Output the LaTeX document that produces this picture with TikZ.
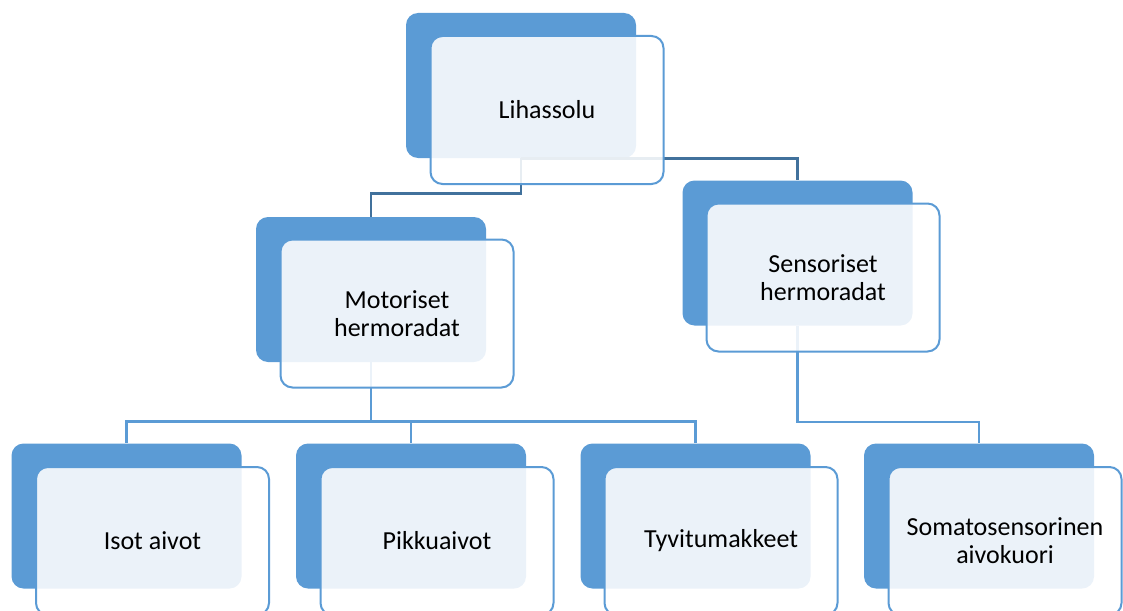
\documentclass[tikz,border=0pt]{standalone}
\usepackage{fontspec}
\setmainfont{Carlito}
\usepackage{tikz}
\usetikzlibrary{positioning}

\definecolor{taka}{RGB}{91,155,213}
\definecolor{viiva}{RGB}{65,113,156}

\tikzset{
  takalaatikko/.style={rectangle, rounded corners=6pt, fill=taka, minimum width=115pt, minimum height=72.5pt},
  etulaatikko/.style={rectangle, rounded corners=6pt, draw=taka, line width=1pt, fill=white, fill opacity=0.88, text opacity=1, minimum width=116.5pt, minimum height=74pt, align=center, font=\fontsize{13}{14}\selectfont},
  yhteys/.style={line width=1.2pt, draw=viiva},
  yhteys2/.style={line width=1.2pt, draw=taka}
}

\begin{document}
\begin{tikzpicture}[x=0.5pt, y=-0.5pt]
					\clip (0,0) rectangle (1123,610);
					% Takalaatikot
					\node[takalaatikko] (lihassolu-t) at (521,85.5) {};
					\node[takalaatikko] (motoriset-t) at (371,289.5) {};
					\node[takalaatikko] (sensoriset-t) at (797.5,253) {};
					\node[takalaatikko] (isot-t) at (126.5,516) {};
					\node[takalaatikko] (pikku-t) at (411,516) {};
					\node[takalaatikko] (tyvi-t) at (695.5,516) {};
					\node[takalaatikko] (soma-t) at (979,516) {};
					
					% Yhteydet
					\draw[yhteys] (lihassolu-t.south) -- ++(0,35) -| (motoriset-t.north);
					\draw[yhteys] (lihassolu-t.south) -| (sensoriset-t.north);
					\draw[yhteys2] (motoriset-t.south) -- ++(0,59) -| (isot-t.north);
					\draw[yhteys2] (motoriset-t.south) -- ++(0,59) -| (pikku-t.north);
					\draw[yhteys2] (motoriset-t.south) -- ++(0,59) -| (tyvi-t.north);
					\draw[yhteys2] (sensoriset-t.south) -- ++(0,96) -| (soma-t.north);
					
					% Tekstilaatikot
					\node[etulaatikko] (lihassolu) at (547,110) {Lihassolu};
					\node[etulaatikko] (motoriset) at (397,313.5) {Motoriset\\hermoradat};
					\node[etulaatikko] (sensoriset) at (823,277.5) {Sensoriset\\hermoradat};
					\node[etulaatikko] (isot) at (152.5,541) {Isot aivot};
					\node[etulaatikko] (pikku) at (437,541) {Pikkuaivot};
					\node[etulaatikko] (tyvi) at (721,541) {Tyvitumakkeet};
					\node[etulaatikko] (soma) at (1005,541) {Somatosensorinen\\aivokuori};
				\end{tikzpicture}
\end{document}
